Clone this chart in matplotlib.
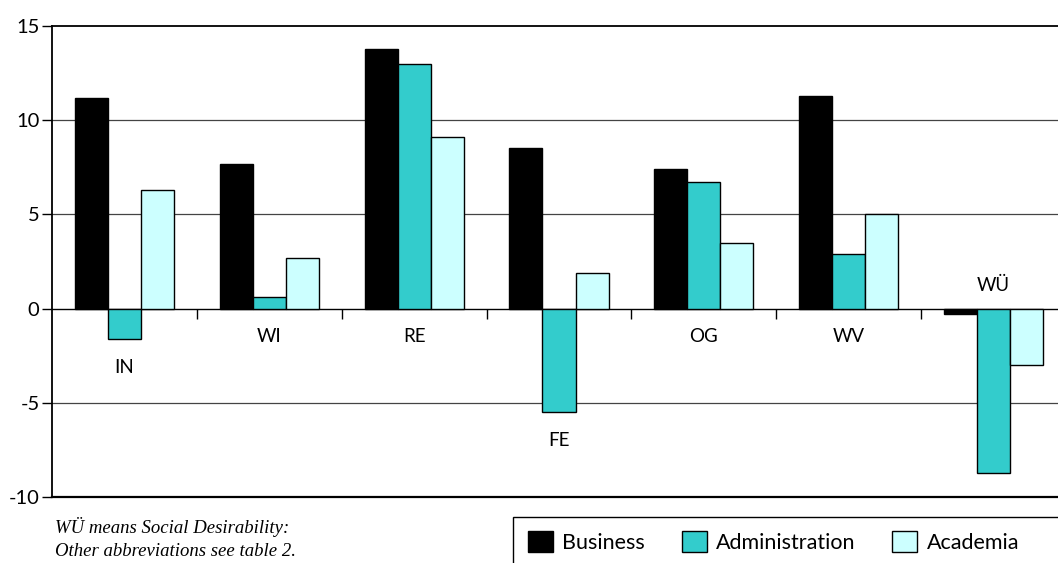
import matplotlib
matplotlib.use("Agg")
from matplotlib import pyplot as plt
from matplotlib.patches import Patch, Rectangle
import numpy as np

# scale scores per group
categories = ["IN", "WI", "RE", "FE", "OG", "WV", "WÜ"]
business = [11.2, 7.7, 13.8, 8.5, 7.4, 11.3, -0.3]
administration = [-1.6, 0.6, 13.0, -5.5, 6.7, 2.9, -8.7]
academia = [6.3, 2.7, 9.1, 1.9, 3.5, 5.0, -3.0]
series_names = ["Business", "Administration", "Academia"]
yticks = [15, 10, 5, 0, -5, -10]

colors = ["#000000", "#33CCCC", "#CCFFFF"]
sans = ["Lato", "DejaVu Sans"]

fig = plt.figure(figsize=(10.58, 5.63), dpi=100)
ax = fig.add_axes([52 / 1058, 1 - 497 / 563, 1014 / 1058, 471 / 563])

x = np.arange(len(categories))
w = 0.228
for k, (vals, c) in enumerate(zip([business, administration, academia], colors)):
    ax.bar(x + (k - 1) * w, vals, width=w, color=c, edgecolor="black",
           linewidth=1.0, zorder=3)

ax.set_xlim(-0.5, len(categories) - 0.5)
ax.set_ylim(-10, 15)

# horizontal grid lines
for yv in [10, 5, -5]:
    ax.axhline(yv, color="#444444", linewidth=0.9, zorder=1)
ax.axhline(-10, color="black", linewidth=1.6, clip_on=False, zorder=4)

# category axis sits on zero, ticks between groups
ax.spines["bottom"].set_position(("data", 0))
ax.spines["bottom"].set_linewidth(1.0)
ax.spines["right"].set_visible(False)
ax.spines["top"].set_linewidth(1.3)
ax.spines["left"].set_linewidth(1.3)
ax.set_xticks(np.arange(len(categories) - 1) + 0.5)
ax.set_xticklabels([])
ax.tick_params(axis="x", direction="out", length=7, width=1, color="black")

ax.set_yticks(yticks)
ax.set_yticklabels([str(t) for t in yticks], fontsize=14.5, family=sans)
ax.tick_params(axis="y", direction="out", length=7, width=1, pad=2)

# group labels below the lowest bar, or above the axis when all are negative
for i, cat in enumerate(categories):
    vals = [business[i], administration[i], academia[i]]
    if max(vals) < 0:
        ly = 1.25
    else:
        ly = min(0, min(vals)) - 1.5
    ax.text(i, ly, cat, ha="center", va="center", fontsize=13.5, family=sans,
            zorder=5)

fig.text(55 / 1058, 1 - 527 / 563, "WÜ means Social Desirability:",
         fontsize=13.5, family="Liberation Serif", style="italic", va="center")
fig.text(55 / 1058, 1 - 551 / 563, "Other abbreviations see table 2.",
         fontsize=13.5, family="Liberation Serif", style="italic", va="center")

# legend box runs off the right and bottom edges
fig.patches.append(Rectangle((513 / 1058, -0.05), 0.6, 1 - 517 / 563 + 0.05,
                             transform=fig.transFigure, facecolor="white",
                             edgecolor="black", linewidth=1.0))
handles = [Patch(facecolor=c, edgecolor="black", linewidth=1.0) for c in colors]
leg = fig.legend(handles, series_names, loc="center left",
                 bbox_to_anchor=(528 / 1058, 1 - 542 / 563), ncol=3,
                 frameon=False, prop={"family": sans, "size": 15.5},
                 handlelength=1.15, handleheight=1.15, columnspacing=1.7,
                 handletextpad=0.45, borderpad=0, borderaxespad=0)

fig.savefig("out.png", dpi=100)
